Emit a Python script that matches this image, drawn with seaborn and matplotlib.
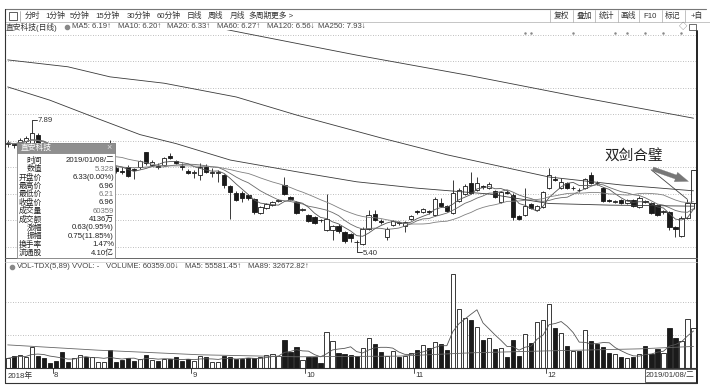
import numpy as np
import pandas as pd
import matplotlib
matplotlib.use("Agg")
import matplotlib.pyplot as plt
from matplotlib.patches import Rectangle
import seaborn as sns

sns.set_theme(style="white")
plt.rcParams["font.family"] = ["Liberation Sans", "Noto Sans CJK SC", "DejaVu Sans"]

# ---------------- data ----------------
opens = [
    7.44, 7.44, 7.46, 7.50, 7.46, 7.62, 7.46, 7.33, 7.23, 7.13,
    6.99, 6.92, 7.00, 7.08, 6.98, 7.04, 7.08, 7.15, 6.99, 6.94,
    7.01, 6.96, 7.00, 7.29, 7.05, 7.02, 7.05, 7.22, 7.12, 7.02,
    6.94, 6.90, 6.86, 7.01, 6.90, 6.89, 6.86, 6.65, 6.52, 6.52,
    6.48, 6.41, 6.14, 6.24, 6.29, 6.37, 6.67, 6.44, 6.35, 6.20,
    6.10, 6.07, 6.01, 5.82, 5.82, 5.90, 5.78, 5.75, 5.60, 5.56,
    5.84, 6.12, 5.99, 5.69, 5.92, 5.96, 5.90, 6.03, 6.17, 6.16,
    6.17, 6.10, 6.33, 6.27, 6.14, 6.37, 6.50, 6.71, 6.58, 6.64,
    6.61, 6.56, 6.35, 6.54, 6.48, 6.09, 6.10, 6.31, 6.20, 6.25,
    6.61, 6.79, 6.61, 6.71, 6.61, 6.58, 6.61, 6.86, 6.71, 6.61,
    6.38, 6.35, 6.39, 6.33, 6.39, 6.25, 6.36, 6.33, 6.29, 6.16,
    6.16, 5.88, 5.71, 6.05, 6.33,
]
closes = [
    7.47, 7.42, 7.51, 7.55, 7.65, 7.46, 7.32, 7.22, 7.12, 6.98,
    6.92, 7.00, 7.08, 6.98, 7.04, 7.08, 7.13, 6.98, 6.94, 6.92,
    6.84, 6.95, 7.12, 7.08, 7.11, 7.01, 7.18, 7.18, 7.08, 7.01,
    6.90, 6.91, 7.01, 6.92, 6.91, 6.92, 6.67, 6.54, 6.39, 6.42,
    6.42, 6.16, 6.25, 6.31, 6.35, 6.38, 6.50, 6.40, 6.14, 6.21,
    5.99, 5.95, 6.00, 6.03, 5.90, 5.80, 5.61, 5.67, 5.59, 5.84,
    6.10, 6.01, 5.97, 5.84, 5.99, 5.95, 5.97, 6.09, 6.16, 6.22,
    6.16, 6.41, 6.27, 6.18, 6.52, 6.58, 6.65, 6.52, 6.71, 6.63,
    6.69, 6.44, 6.54, 6.52, 6.07, 6.03, 6.27, 6.24, 6.27, 6.54,
    6.86, 6.77, 6.73, 6.61, 6.62, 6.57, 6.78, 6.71, 6.70, 6.37,
    6.37, 6.36, 6.33, 6.39, 6.27, 6.42, 6.35, 6.14, 6.10, 6.17,
    5.88, 5.84, 6.05, 6.33, 6.96,
]
highs = [
    7.52, 7.47, 7.55, 7.60, 7.89, 7.66, 7.48, 7.36, 7.25, 7.16,
    7.02, 7.03, 7.11, 7.12, 7.07, 7.11, 7.16, 7.52, 7.02, 7.00,
    7.04, 6.99, 7.15, 7.30, 7.14, 7.08, 7.20, 7.27, 7.15, 7.09,
    6.97, 6.95, 7.08, 7.07, 6.99, 6.95, 6.88, 6.67, 6.55, 6.55,
    6.50, 6.43, 6.28, 6.33, 6.37, 6.40, 6.82, 6.46, 6.37, 6.24,
    6.12, 6.09, 6.03, 6.50, 5.92, 5.93, 5.80, 5.77, 5.63, 5.88,
    6.20, 6.20, 6.02, 5.87, 6.01, 5.99, 5.99, 6.11, 6.20, 6.24,
    6.20, 6.44, 6.42, 6.29, 6.76, 6.61, 6.68, 6.92, 6.82, 6.67,
    6.72, 6.58, 6.56, 6.57, 6.51, 6.11, 6.61, 6.33, 6.29, 6.56,
    6.99, 6.84, 6.80, 6.73, 6.65, 6.61, 6.80, 6.92, 6.74, 6.63,
    6.40, 6.38, 6.41, 6.41, 6.41, 6.46, 6.39, 6.35, 6.31, 6.20,
    6.18, 5.90, 6.08, 6.40, 6.96,
]
lows = [
    7.38, 7.36, 7.43, 7.46, 7.40, 7.42, 7.28, 7.19, 7.08, 6.95,
    6.88, 6.90, 6.98, 6.95, 6.96, 7.01, 7.05, 6.95, 6.90, 6.88,
    6.82, 6.78, 6.98, 7.05, 7.03, 6.97, 7.03, 7.16, 7.06, 6.95,
    6.88, 6.80, 6.76, 6.90, 6.82, 6.73, 6.61, 6.03, 6.36, 6.35,
    6.38, 6.13, 6.12, 6.22, 6.27, 6.35, 6.48, 6.38, 6.12, 6.17,
    5.97, 5.93, 5.97, 5.80, 5.63, 5.77, 5.58, 5.60, 5.40, 5.54,
    5.82, 5.99, 5.94, 5.63, 5.90, 5.92, 5.79, 6.01, 6.13, 6.14,
    6.13, 6.08, 6.25, 6.16, 6.12, 6.35, 6.48, 6.50, 6.56, 6.60,
    6.59, 6.42, 6.33, 6.50, 6.01, 6.00, 6.08, 6.22, 6.18, 6.23,
    6.59, 6.74, 6.59, 6.59, 6.58, 6.54, 6.59, 6.69, 6.67, 6.35,
    6.35, 6.33, 6.31, 6.31, 6.25, 6.23, 6.33, 6.12, 6.08, 6.13,
    5.82, 5.69, 5.69, 6.03, 6.21,
]
volumes = [
    14600, 18200, 19700, 17200, 32300, 18200, 14600, 8100, 10600, 24800,
    9600, 14600, 19700, 17200, 17200, 9600, 9600, 27000, 9600, 12000,
    15000, 11000, 14000, 20000, 12000, 10000, 14000, 13000, 16000, 11000,
    13000, 10000, 18700, 17200, 9600, 9600, 18200, 17200, 13100, 13100,
    14600, 14600, 17200, 19700, 20700, 18200, 42400, 24700, 32300, 12100,
    16200, 16200, 8100, 55000, 41400, 23200, 21200, 19700, 18700, 31000,
    46000, 37000, 24000, 18700, 25000, 17000, 18700, 23000, 28000, 35000,
    31000, 39000, 36000, 28000, 142000, 90000, 75000, 72000, 62000, 43000,
    45000, 29000, 30000, 16000, 42000, 18000, 51500, 38000, 69000, 73000,
    97000, 60000, 53000, 33000, 25000, 25000, 58000, 41000, 37000, 32000,
    23000, 21000, 17000, 15000, 16000, 21000, 33000, 21000, 29000, 23000,
    60000, 45000, 41000, 74000, 60359,
]

# long averages (bar index, value)
ma60_idx = [0, 7, 15, 22, 28, 37, 48, 58, 68, 80, 90, 100, 114]
ma60_val = [8.52, 8.27, 7.92, 7.62, 7.45, 7.14, 6.92, 6.73, 6.61, 6.50, 6.32, 6.29, 6.27]
ma120_idx = [0, 10, 17, 26, 38, 48, 62, 73, 90, 102, 114]
ma120_val = [9.03, 8.90, 8.71, 8.59, 8.33, 7.99, 7.56, 7.24, 6.82, 6.67, 6.56]
ma250_idx = [36, 40, 58, 77, 95, 114]
ma250_val = [9.61, 9.52, 9.12, 8.73, 8.33, 7.93]
vma89_idx = [0, 15, 32, 48, 65, 77, 90, 105, 114]
vma89_val = [35000, 27000, 20000, 17000, 18000, 23000, 26000, 29000, 32673]

month_idx = [8, 31, 50, 68, 90]
month_lbl = ["8", "9", "10", "11", "12"]
info_marks = [86, 87, 94, 101, 103, 106, 109, 112]

info_rows = [
    ("时间", "2019/01/08/二"), ("数值", "5.328"), ("开盘价", "6.33(0.00%)"),
    ("最高价", "6.96"), ("最低价", "6.21"), ("收盘价", "6.96"),
    ("成交量", "60359"), ("成交额", "4136万"), ("涨幅", "0.63(0.95%)"),
    ("振幅", "0.75(11.85%)"), ("换手率", "1.47%"), ("流通股", "4.10亿"),
]

df = pd.DataFrame({"open": opens, "close": closes, "high": highs,
                   "low": lows, "vol": volumes})
df["i"] = np.arange(len(df))
df["ma5"] = df["close"].rolling(5, min_periods=1).mean()
df["ma10"] = df["close"].rolling(10, min_periods=1).mean()
df["ma20"] = df["close"].rolling(20, min_periods=1).mean()
df["vma5"] = df["vol"].rolling(5, min_periods=1).mean()
up = (df["close"] >= df["open"]).values

# ---------------- layout ----------------
W, H = 710, 385
FS = 5.6
fig = plt.figure(figsize=(W / 100, H / 100), dpi=100)
fig.patch.set_facecolor("white")


def rect(l, t, r, b):
    return [l / W, 1 - b / H, (r - l) / W, (b - t) / H]


ax_p = fig.add_axes(rect(5, 30, 697, 257))
ax_v = fig.add_axes(rect(5, 262, 697, 368))
XL = (-0.45, 114.58)
INK = "#1a1a1a"

# ---------------- price panel ----------------
ax_p.vlines(df["i"], df["low"], df["high"], color=INK, lw=0.6, zorder=2)
body_low = np.minimum(df["open"], df["close"])
body_h = np.maximum((df["close"] - df["open"]).abs(), 0.012)
ax_p.bar(df["i"], body_h, bottom=body_low, width=0.72,
         color=np.where(up, "white", INK), edgecolor=INK, linewidth=0.6, zorder=3)

for col, c in [("ma5", "#555555"), ("ma10", "#6a6a6a"), ("ma20", "#808080")]:
    sns.lineplot(data=df, x="i", y=col, ax=ax_p, color=c, lw=0.6, zorder=4)
sns.lineplot(x=ma60_idx, y=ma60_val, ax=ax_p, color="#3a3a3a", lw=0.6, zorder=4)
sns.lineplot(x=ma120_idx, y=ma120_val, ax=ax_p, color="#3a3a3a", lw=0.6, zorder=4)
sns.lineplot(x=ma250_idx, y=ma250_val, ax=ax_p, color="#3a3a3a", lw=0.6, zorder=4)

ax_p.set_xlim(*XL)
ax_p.set_ylim(5.311, 9.594)
ax_p.set_yticks(np.arange(5.5, 9.51, 0.5))
ax_p.grid(axis="y", color="#a8a8a8", ls=(0, (1, 2)), lw=0.6)
ax_p.tick_params(left=False, labelleft=False, bottom=False, labelbottom=False)
ax_p.set_xlabel("")
ax_p.set_ylabel("")
for s in ax_p.spines.values():
    s.set_visible(False)

# extreme price labels
hi_i = int(df["high"].idxmax())
lo_i = int(df["low"].idxmin())
ax_p.plot([hi_i, hi_i + 0.9], [df["high"][hi_i], df["high"][hi_i]], color=INK, lw=0.6)
ax_p.text(hi_i + 1.0, df["high"][hi_i], "7.89", fontsize=FS, va="center", color="#333")
ax_p.plot([lo_i, lo_i + 0.9], [df["low"][lo_i], df["low"][lo_i]], color=INK, lw=0.6)
ax_p.text(lo_i + 1.0, df["low"][lo_i] - 0.02, "5.40", fontsize=FS, va="center", color="#333")

# annotation
ax_p.text(104.0, 7.21, "双剑合璧", fontsize=10.5, ha="center", va="center",
          color="#222", family="Noto Sans CJK SC")
ax_p.annotate("", xy=(113.3, 6.37), xytext=(106.6, 6.99),
              arrowprops=dict(arrowstyle="-", color="#444", lw=0.6))
ax_p.annotate("", xy=(113.6, 6.72), xytext=(106.8, 6.99),
              arrowprops=dict(arrowstyle="simple,head_length=0.8,head_width=0.6,tail_width=0.25",
                              color="#777", lw=0.2))

# ---------------- volume panel ----------------
ax_v.bar(df["i"], df["vol"], width=0.7, color=np.where(up, "white", INK),
         edgecolor=INK, linewidth=0.6, zorder=3)
sns.lineplot(data=df, x="i", y="vma5", ax=ax_v, color="#555", lw=0.6, zorder=4)
sns.lineplot(x=vma89_idx, y=vma89_val, ax=ax_v, color="#666", lw=0.6, zorder=4)
ax_v.set_xlim(*XL)
ax_v.set_ylim(0, 160590)
ax_v.set_yticks([50000, 100000])
ax_v.grid(axis="y", color="#a8a8a8", ls=(0, (1, 2)), lw=0.6)
ax_v.tick_params(left=False, labelleft=False, bottom=False, labelbottom=False)
ax_v.set_xlabel("")
ax_v.set_ylabel("")
for s in ax_v.spines.values():
    s.set_visible(False)

# date strip
tr = ax_v.get_xaxis_transform()
for m, lbl in zip(month_idx, month_lbl):
    ax_v.plot([m - 0.5, m - 0.5], [0, -0.05], transform=tr, color="#333", lw=0.6, clip_on=False)
    ax_v.text(m - 0.3, -0.075, lbl, transform=tr, fontsize=FS, va="center", ha="left", color="#333")

# ---------------- overlay: frame, toolbar, headers, info box ----------------
ov = fig.add_axes([0, 0, 1, 1])
ov.set_xlim(0, W)
ov.set_ylim(H, 0)
ov.axis("off")
ov.patch.set_alpha(0)
ov.set_zorder(10)

line_kw = dict(color="#333", lw=0.8)
ov.plot([5, 706], [9, 9], color="#777", lw=0.8)
ov.plot([5, 710], [22, 22], color="#bbb", lw=0.6)
ov.plot([5, 5], [9, 383], **line_kw)
ov.plot([697, 697], [31, 383], color="#222", lw=1.4)
ov.plot([5, 697], [258, 258], color="#666", lw=0.7)
ov.plot([5, 697], [262, 262], color="#ccc", lw=0.5)
ov.plot([5, 697], [368, 368], **line_kw)
ov.plot([5, 697], [383, 383], **line_kw)

# toolbar
ov.add_patch(Rectangle((9, 12), 8, 8, fill=False, ec="#444", lw=0.6))
ov.plot([20, 20], [11, 21], color="#999", lw=0.5)
tool_items = [(25, "分时"), (45, "1分钟"), (70, "5分钟"), (95, "15分钟"), (127, "30分钟"),
              (157, "60分钟"), (187, "日线"), (208, "周线"), (230, "月线"), (248, "多周期"),
              (271, "更多 >")]
for x, t in tool_items:
    ov.text(x, 16, t, fontsize=FS, va="center", ha="left", color="#333")
right_btns = [(561, "复权"), (584, "叠加"), (606, "统计"), (628, "画线"), (650, "F10"),
              (673, "标记"), (697, "+自")]
for x, t in right_btns:
    ov.text(x, 16, t, fontsize=FS, va="center", ha="center", color="#333")
for x in [550, 573, 595, 618, 639, 662, 685]:
    ov.plot([x, x], [10, 22], color="#aaa", lw=0.5)

# price header
ov.text(6, 27, "直安科技(日线)", fontsize=FS, va="center", ha="left", color="#333")
ov.scatter([67], [27], s=9, color="#888", zorder=5)
hdr = [(72, "MA5: 6.19↑"), (118, "MA10: 6.20↑"), (167, "MA20: 6.33↑"),
       (217, "MA60: 6.27↑"), (267, "MA120: 6.56↓"), (318, "MA250: 7.93↓")]
for x, t in hdr:
    ov.text(x, 27, t, fontsize=FS, va="center", ha="left", color="#444")
ov.text(683, 27, "◇", fontsize=6, va="center", ha="center", color="#777")
ov.add_patch(Rectangle((689, 24), 7, 6, fill=False, ec="#555", lw=0.6))
for m in info_marks:
    ov.scatter([7.7 + 6.016 * m], [33], s=0.6, color="#888")

# volume header
ov.scatter([12], [267], s=9, color="#888", zorder=5)
vhdr = [(17, "VOL-TDX(5,89)"), (72, "VVOL: -"), (106, "VOLUME: 60359.00↓"),
        (185, "MA5: 55581.45↑"), (248, "MA89: 32672.82↑")]
for x, t in vhdr:
    ov.text(x, 267, t, fontsize=FS, va="center", ha="left", color="#444")

# date strip texts
ov.text(8, 376, "2018年", fontsize=FS, va="center", ha="left", color="#333")
ov.add_patch(Rectangle((645, 369), 51, 13, fc="white", ec="#444", lw=0.6))
ov.text(694, 375.5, "2019/01/08/二", fontsize=FS, va="center", ha="right", color="#333")

# info box
ov.add_patch(Rectangle((17, 143), 98, 115, fc="white", ec="#888", lw=0.6, zorder=6))
ov.add_patch(Rectangle((17, 143), 98, 10, fc="#8f8f8f", ec="#888", lw=0.6, zorder=7))
ov.text(21, 148, "直安科技", fontsize=FS, va="center", ha="left", color="white", zorder=8)
ov.text(109, 148, "×", fontsize=6.5, va="center", ha="center", color="#ddd", zorder=8)
for k, (lab, val) in enumerate(info_rows):
    y = 161 + 8.35 * k
    ov.text(42, y, lab, fontsize=FS, va="center", ha="right", color="#222", zorder=8)
    vc = "#777" if lab in ("数值", "最低价", "成交量") else "#222"
    ov.text(114, y, val, fontsize=FS, va="center", ha="right", color=vc, zorder=8)

fig.savefig("out.png", dpi=100, facecolor="white")
